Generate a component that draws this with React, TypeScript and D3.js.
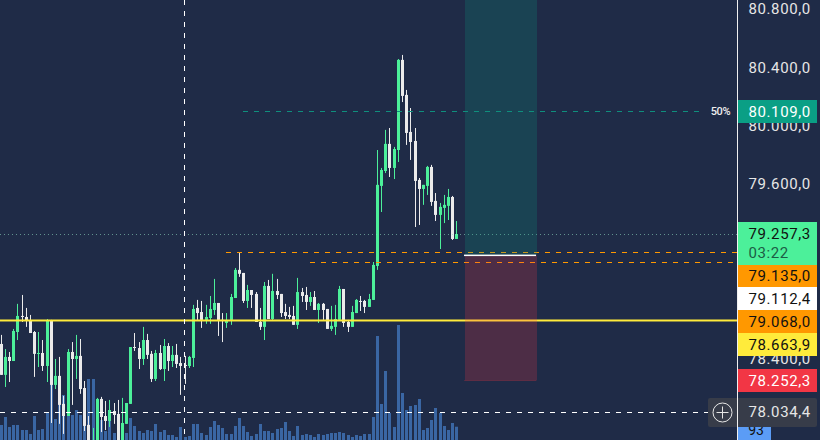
import { useEffect, useRef } from "react";
import * as d3 from "d3";

const opens = [78503,78291,78414,78386,78585,78695,78688,78661,78585,78435,78441,78352,78661,78222,78284,78092,78009,78448,78400,78421,78201,77948,77742,77811,78126,78009,77975,78043,78023,77811,77955,78092,78482,78475,78400,78530,78435,78263,78441,78331,78489,78386,78428,78372,78359,78352,78407,78750,78722,78668,78681,78736,78784,78668,78647,78668,78818,79011,78990,78798,78873,78846,78654,78620,78901,78674,78866,78846,78722,78702,78695,78634,78859,78839,78791,78825,78736,78778,78743,78606,78620,78668,78880,78654,78620,78715,78798,78798,78757,78805,79038,79587,79689,79875,79710,79833,80451,80211,79957,79895,79628,79566,79587,79717,79484,79388,79436,79450,79511,79223];
const highs = [78565,78468,78448,78606,78778,78839,78750,78702,78592,78585,78530,78674,78668,78400,78414,78147,78468,78516,78565,78537,78249,78009,77927,78133,78140,78112,78119,78098,78119,78133,78098,78482,78578,78516,78620,78572,78455,78462,78496,78537,78509,78489,78503,78414,78421,78421,78771,78805,78798,78771,78832,78949,78784,78715,78715,78846,79024,79127,78990,78908,78873,78859,78750,78928,78942,78984,78949,78846,78778,78757,78764,78956,78887,78894,78859,78866,78784,78784,78743,78764,78771,78901,78880,78668,78764,78811,78832,78805,78846,79065,79833,79710,79971,79984,79854,80457,80485,80245,80121,79984,79641,79594,79724,79731,79538,79470,79525,79566,79518,79346];
const lows = [78291,78208,78242,78386,78530,78654,78620,78578,78277,78345,78318,78242,77961,78194,77955,77886,78009,78085,78263,78161,77906,77776,77708,77776,77899,77913,77934,77955,77776,77776,77955,78092,78455,78331,78359,78400,78242,78249,78325,78249,78318,78345,78338,78154,78229,78338,78345,78668,78613,78641,78641,78702,78558,78516,78613,78634,78818,78963,78784,78750,78750,78654,78599,78530,78674,78668,78811,78688,78674,78674,78634,78606,78791,78736,78764,78736,78647,78668,78606,78592,78565,78668,78620,78585,78620,78715,78729,78715,78757,78805,79011,79408,79675,79648,79634,79751,80162,79868,79765,79305,79319,79457,79525,79450,79346,79154,79332,79353,79216,79223];
const closes = [78291,78414,78386,78592,78695,78688,78661,78578,78435,78441,78352,78661,78222,78284,78085,78009,78448,78400,78421,78194,77941,77811,77831,78126,78002,77975,78050,78016,77811,77961,78098,78482,78475,78400,78530,78428,78263,78441,78331,78489,78386,78428,78366,78352,78352,78414,78743,78715,78668,78688,78743,78784,78668,78661,78661,78825,79011,78984,78798,78873,78839,78654,78620,78901,78674,78866,78839,78715,78695,78688,78634,78859,78832,78791,78825,78736,78778,78736,78606,78627,78674,78880,78647,78620,78722,78805,78791,78757,78811,79045,79594,79696,79875,79710,79840,80451,80204,79950,79888,79621,79566,79594,79717,79477,79388,79443,79457,79511,79223,79257];
const volumes = [105,161,91,105,105,70,70,42,168,70,77,189,385,147,245,315,168,175,210,175,364,427,427,287,140,63,210,49,140,70,49,154,98,63,49,70,63,112,56,70,35,35,21,91,21,28,112,112,49,35,91,133,105,84,42,42,98,154,98,56,28,42,112,63,63,49,77,84,126,63,28,98,35,42,35,21,42,35,42,49,49,56,49,35,21,35,28,42,42,161,728,252,483,189,91,805,329,210,238,245,287,70,84,140,224,189,98,70,119,93];

const priceTicks = [78400, 79600, 80000, 80400, 80800];
const lastPrice = 79257.3;
const countdown = "03:22";
const crossPrice = 78034.4;
const horizontalLevel = 78663.9;
const orangeLevels = [79135, 79068];
const entryPrice = 79112.4;
const stopPrice = 78252.3;
const fiftyPrice = 80109;
const lastVolume = 93;

const UP = "#4cf09a";
const DOWN = "#ebebeb";
const BG = "#1f2b47";

const fmt = d3.formatLocale({ decimal: ",", thousands: ".", grouping: [3], currency: ["", ""] }).format(",.1f");

const App = () => {
  const ref = useRef<SVGSVGElement>(null!);

  useEffect(() => {
    const width = 820;
    const height = 440;
    const axisX = 737;

    const svg = d3.select(ref.current);
    svg.selectAll("*").remove();

    const x = d3.scaleLinear().domain([0, opens.length - 1]).range([0.7, 456.3]);
    const y = d3.scaleLinear().domain([78000, 80800]).range([417.3, 9]);
    const v = d3.scaleLinear().domain([0, 805]).range([height, 325]);
    const cx = (i: number) => Math.round(x(i));
    const snap = (p: number) => Math.round(y(p)) + 0.5;

    svg.append("rect").attr("width", width).attr("height", height).attr("fill", BG);

    // volume
    svg.append("g").attr("fill", "#3a66a3")
      .selectAll("rect").data(volumes).enter().append("rect")
      .attr("x", (_, i) => cx(i) - 1)
      .attr("y", (d) => v(d))
      .attr("width", 3)
      .attr("height", (d) => height - v(d));

    // candles
    const candles = svg.append("g").selectAll("g").data(opens).enter().append("g")
      .attr("fill", (d, i) => (closes[i] >= d ? UP : DOWN));
    candles.append("rect")
      .attr("x", (_, i) => cx(i))
      .attr("y", (_, i) => y(highs[i]))
      .attr("width", 1)
      .attr("height", (_, i) => y(lows[i]) - y(highs[i]));
    candles.append("rect")
      .attr("x", (_, i) => cx(i) - 1)
      .attr("y", (d, i) => y(Math.max(d, closes[i])))
      .attr("width", 3)
      .attr("height", (d, i) => Math.max(1, Math.abs(y(d) - y(closes[i]))));

    // last price, levels
    svg.append("line").attr("x1", 0).attr("x2", axisX)
      .attr("y1", snap(lastPrice)).attr("y2", snap(lastPrice))
      .attr("stroke", "#8fd8c0").attr("stroke-opacity", 0.6).attr("stroke-dasharray", "1 3");

    svg.append("rect").attr("x", 0).attr("width", axisX)
      .attr("y", y(horizontalLevel) - 1).attr("height", 2).attr("fill", "#ffeb3b");

    orangeLevels.forEach((p, i) => {
      svg.append("line").attr("x1", i === 0 ? 226 : 310).attr("x2", axisX)
        .attr("y1", snap(p)).attr("y2", snap(p))
        .attr("stroke", "#ff9800").attr("stroke-dasharray", "5 6");
    });

    // long position box
    const boxX = 465;
    const boxW = 72;
    svg.append("rect").attr("x", boxX).attr("width", boxW).attr("y", 0).attr("height", y(entryPrice))
      .attr("fill", "#089981").attr("fill-opacity", 0.22);
    svg.append("rect").attr("x", boxX).attr("width", boxW).attr("y", y(entryPrice)).attr("height", y(stopPrice) - y(entryPrice))
      .attr("fill", "#f23645").attr("fill-opacity", 0.22);
    svg.append("rect").attr("x", boxX - 1).attr("width", boxW).attr("y", y(entryPrice) - 0.5).attr("height", 1.5).attr("fill", "#ffffff");
    svg.append("rect").attr("x", boxX - 1).attr("width", boxW).attr("y", y(stopPrice) - 0.5).attr("height", 1).attr("fill", "#f23645").attr("fill-opacity", 0.22);

    // 50% line
    svg.append("line").attr("x1", 243).attr("x2", 704)
      .attr("y1", 111.5).attr("y2", 111.5)
      .attr("stroke", "#0f8f7d").attr("stroke-dasharray", "5 6");
    svg.append("text").attr("x", 720.5).attr("y", 111).attr("dy", "0.35em")
      .attr("text-anchor", "middle").attr("font-family", "Roboto").attr("font-size", 11).attr("font-weight", 500)
      .attr("letter-spacing", -0.3).attr("fill", "#eeeeee")
      .text("50%");

    // crosshair
    svg.append("line").attr("x1", 184.5).attr("x2", 184.5).attr("y1", 0).attr("y2", height)
      .attr("stroke", "#ffffff").attr("stroke-dasharray", "5 6");
    svg.append("line").attr("x1", 0).attr("x2", 708).attr("y1", snap(crossPrice)).attr("y2", snap(crossPrice))
      .attr("stroke", "#ffffff").attr("stroke-dasharray", "5 6");

    // price scale
    svg.append("rect").attr("x", axisX).attr("width", 1).attr("height", height).attr("fill", "#f0f0f0");

    const labelText = (sel: d3.Selection<SVGGElement, unknown, null, undefined>) =>
      sel.append("text").attr("x", 748.5).attr("dy", "0.35em")
        .attr("font-family", "Roboto").attr("font-size", 15).attr("letter-spacing", 0.6);

    const axisG = svg.append("g");
    priceTicks.forEach((p) => {
      labelText(axisG).attr("y", y(p)).attr("fill", "#e6e6e6").text(fmt(p));
    });

    const tags = [
      { value: fiftyPrice, top: 100, bottom: 123, fill: "#0a9f85", color: "#ffffff" },
      { value: orangeLevels[0], top: 265, bottom: 287, fill: "#ff9800", color: "#111111" },
      { value: entryPrice, top: 287, bottom: 310, fill: "#ffffff", color: "#111111" },
      { value: orangeLevels[1], top: 310, bottom: 333, fill: "#ff9800", color: "#111111" },
      { value: horizontalLevel, top: 333, bottom: 356, fill: "#ffeb3b", color: "#111111" },
      { value: stopPrice, top: 369, bottom: 392, fill: "#f23645", color: "#ffffff" },
    ];
    const tagG = svg.append("g");
    tags.forEach((t) => {
      tagG.append("rect").attr("x", 738).attr("width", 79).attr("y", t.top).attr("height", t.bottom - t.top).attr("fill", t.fill);
      labelText(tagG).attr("y", (t.top + t.bottom) / 2).attr("fill", t.color).text(fmt(t.value));
    });

    // last price tag
    tagG.append("rect").attr("x", 738).attr("width", 79).attr("y", 222).attr("height", 43).attr("fill", UP);
    labelText(tagG).attr("y", 234).attr("fill", "#111111").text(fmt(lastPrice));
    labelText(tagG).attr("y", 253).attr("fill", "#1d5c45").text(countdown);

    // volume tag
    tagG.append("rect").attr("x", 738).attr("width", 33).attr("y", 427).attr("height", 13).attr("fill", "#5b9cf6");
    tagG.append("text").attr("x", 756).attr("y", 430).attr("dy", "0.35em").attr("text-anchor", "middle")
      .attr("font-family", "Roboto").attr("font-size", 14).attr("fill", "#111111").text(lastVolume);

    // crosshair tag and plus button
    tagG.append("rect").attr("x", 708).attr("width", 109).attr("y", 398).attr("height", 29).attr("rx", 2).attr("fill", "#373c49");
    svg.append("rect").attr("x", axisX).attr("width", 1).attr("y", 398).attr("height", 29).attr("fill", "#f0f0f0");
    labelText(tagG).attr("y", 412).attr("fill", "#e6e6e6").text(fmt(crossPrice));
    const plus = svg.append("g").attr("stroke", "#e6e6e6").attr("fill", "none").attr("transform", "translate(722.5,412.5)");
    plus.append("circle").attr("r", 9.5);
    plus.append("line").attr("x1", -6).attr("x2", 6);
    plus.append("line").attr("y1", -6).attr("y2", 6);
  }, []);

  return <svg ref={ref} width={820} height={440} style={{ position: "absolute", left: 0, top: 0, display: "block" }} />;
};

export default App;
